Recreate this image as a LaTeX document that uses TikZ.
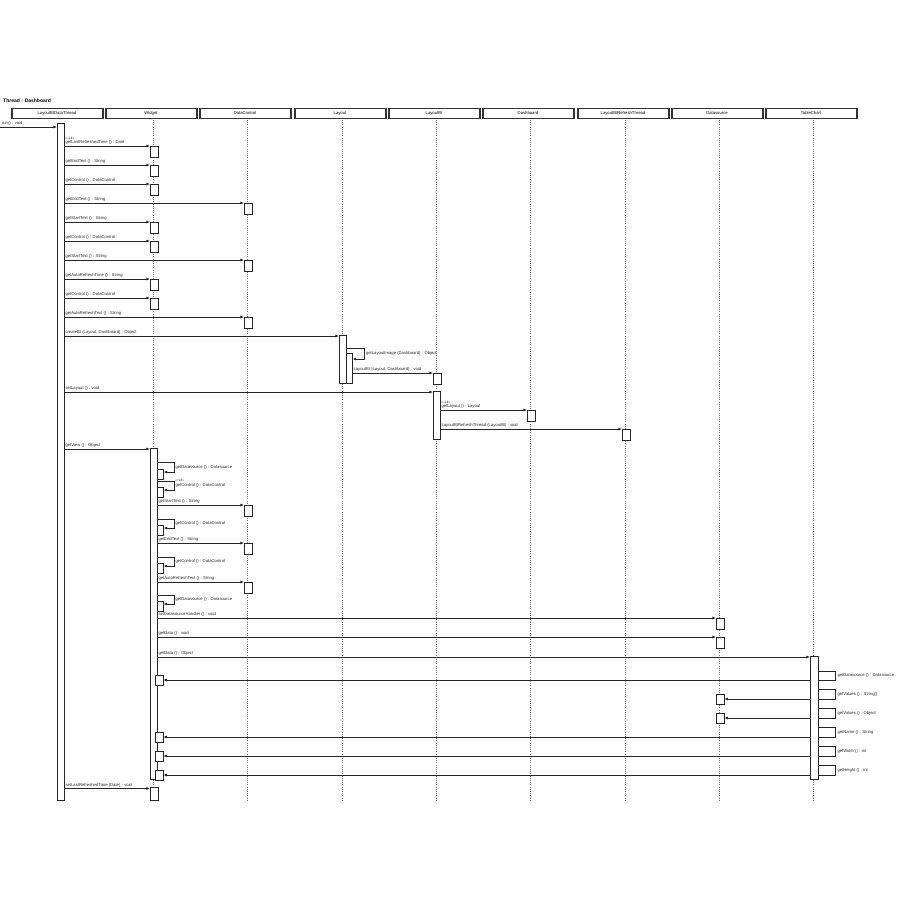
\documentclass[tikz,border=0pt]{standalone}
\usepackage{fontspec}
\setmainfont{Liberation Sans}
\usetikzlibrary{arrows.meta}

% message from a bar edge (#1) at height #2 to a new call box on lifeline #3
\newcommand\sendmsg[5]{%
  \node[actbox, anchor=north west] (#4) at (#3-3,#2-0.5) {};
  \coordinate (#4-from) at (#1,#2);
  \draw[msg] (#4-from) -- (#4-from -| #4.west);
  \node[lbl, anchor=south west] (#4-lbl) at (#1+1,#2-0.8) {#5};
}
% self call on a bar whose right edge is #1, loop from #2 down to #3
\newcommand\selfmsg[5]{%
  \node[actbox, minimum width=6pt, minimum height=9.5pt, anchor=north west] (#4) at (#1,#3-3) {};
  \coordinate (#4-from) at (#1,#2);
  \coordinate (#4-turn) at (#1+17,#2);
  \coordinate (#4-back) at (#1+17,#3);
  \draw[msg] (#4-from) -- (#4-turn) -- (#4-back) -- (#4-back -| #4.east);
  \node[lbl, anchor=west] (#4-lbl) at (#1+18,{(#2+#3)/2}) {#5};
}
% call made by the table chart, answered on lifeline centre #3
\newcommand\chartcall[5]{%
  \node[actbox, minimum height=10pt] (#4) at (#3,#2) {};
  \coordinate (#4-a) at (818,#1);
  \coordinate (#4-b) at (835,#1);
  \coordinate (#4-c) at (835,#2);
  \coordinate (#4-d) at (818,#2);
  \draw[link] (#4-a) -- (#4-b) -- (#4-c) -- (#4-d);
  \coordinate (#4-from) at (810,#2);
  \draw[msg] (#4-from) -- (#4-from -| #4.east);
  \node[lbl, anchor=west] (#4-lbl) at (837,{(#1+#2)/2}) {#5};
}

\begin{document}
\begin{tikzpicture}[x=1pt,y=-1pt,
  lbl/.style={font=\fontsize{4.2}{5}\selectfont, inner sep=0.3pt, text=black!85},
  tiny/.style={font=\fontsize{3.4}{4}\selectfont, inner sep=0.2pt, text=black!75},
  head/.style={draw=black!80, line width=0.7pt, fill=white, minimum width=92pt,
    minimum height=10.5pt, inner sep=0pt, text height=3.1pt, text depth=0.9pt,
    font=\fontsize{4.2}{5}\selectfont},
  life/.style={draw=black!55, line width=0.6pt, dash pattern=on 0.9pt off 1.3pt},
  msg/.style={draw=black!85, line width=0.7pt, -{Latex[length=3.6pt,width=3pt]}},
  link/.style={draw=black!85, line width=0.7pt},
  bar/.style={draw=black!85, line width=0.6pt, fill=white, inner sep=0pt},
  actbox/.style={draw=black!85, line width=0.6pt, fill=white, inner sep=0pt,
    minimum width=8pt, minimum height=11pt},
]
\useasboundingbox (0,0) rectangle (900,900);

\node[anchor=west, inner sep=0pt, font=\fontsize{5}{6}\selectfont\bfseries] (title) at (3,101) {Thread : Dashboard};

% lifeline heads
\coordinate (bottom) at (0,802);
\foreach \x/\n/\t in {57/h0/LayoutBIDataThread, 151/h1/Widget, 245/h2/DataControl,
  340/h3/Layout, 434/h4/LayoutBI, 528/h5/Dashboard, 623/h6/LayoutBIRefreshThread,
  717/h7/Datasource, 811/h8/TableChart}{
  \node[head] (\n) at (\x,113.5) {\t};
  \draw[black!80, line width=0.5pt] ([xshift=1.6pt]\n.north west) -- ([xshift=1.6pt]\n.south west);
  \draw[black!80, line width=0.5pt] ([xshift=-1.6pt]\n.north east) -- ([xshift=-1.6pt]\n.south east);
}
% lifelines
\foreach \n/\x in {h1/153, h2/247, h3/342, h4/436, h5/530, h6/625, h7/719, h8/813}{
  \coordinate (\n-top) at (\x,120);
  \draw[life] (\n-top) -- (\n-top |- bottom);
}

% activation bars
\node[bar, minimum width=7pt, minimum height=677pt, anchor=north west] (mainbar) at (57,123) {};
\node[bar, minimum width=7pt, minimum height=48pt, anchor=north west] (lybar) at (339,335) {};
\node[bar, minimum width=6pt, minimum height=30pt, anchor=north west] (lyin) at (346,353) {};
\node[bar, minimum width=7pt, minimum height=48pt, anchor=north west] (lbbar) at (433,391) {};
\node[bar, minimum width=7pt, minimum height=331pt, anchor=north west] (wbar) at (150,448) {};
\node[bar, minimum width=8pt, minimum height=123pt, anchor=north west] (tcbar) at (810,656) {};

% entry call
\coordinate (run-from) at (0,127);
\draw[msg] (run-from) -- (run-from -| mainbar.west);
\node[lbl, anchor=south west] (run-lbl) at (1.5,125.5) {run() : void};

% reading the widget settings
\node[tiny, anchor=south west] (m1-st) at (65,139.5) {«call»};
\sendmsg{64}{146}{153}{m1}{getLastRefreshedTime () : Date}
\sendmsg{64}{165}{153}{m2}{getEndText () : String}
\sendmsg{64}{184}{153}{m3}{getControl () : DataControl}
\sendmsg{64}{203}{247}{m4}{getEndText () : String}
\sendmsg{64}{222}{153}{m5}{getStartText () : String}
\sendmsg{64}{241}{153}{m6}{getControl () : DataControl}
\sendmsg{64}{260}{247}{m7}{getStartText () : String}
\sendmsg{64}{279}{153}{m8}{getAutoRefreshTime () : String}
\sendmsg{64}{298}{153}{m9}{getControl () : DataControl}
\sendmsg{64}{317}{247}{m10}{getAutoRefreshText () : String}

% creating the layout
\coordinate (cb-from) at (64,336);
\draw[msg] (cb-from) -- (cb-from -| lybar.west);
\node[lbl, anchor=south west] (cb-lbl) at (65,335.2) {createBI (Layout, Dashboard) : Object};
\coordinate (li-from) at (346,348);
\coordinate (li-turn) at (364,348);
\coordinate (li-back) at (364,359);
\draw[msg] (li-from) -- (li-turn) -- (li-back) -- (li-back -| lyin.east);
\node[lbl, anchor=west] (li-lbl) at (365.5,353.5) {getLayoutImage (Dashboard) : Object};
\sendmsg{352}{373}{436}{lbi}{LayoutBI (Layout, Dashboard) : void}

\coordinate (sl-from) at (64,392);
\draw[msg] (sl-from) -- (sl-from -| lbbar.west);
\node[lbl, anchor=south west] (sl-lbl) at (65,391.2) {setLayout () : void};
\node[tiny, anchor=south west] (gl-st) at (441,403.5) {«call»};
\sendmsg{440}{410}{530}{gl}{getLayout () : Layout}
\sendmsg{440}{429}{625}{rt}{LayoutBIRefreshThread (LayoutBI) : void}

% building the view
\coordinate (gv-from) at (64,449);
\draw[msg] (gv-from) -- (gv-from -| wbar.west);
\node[lbl, anchor=south west] (gv-lbl) at (65,448.2) {getView () : Object};

\selfmsg{157}{462}{472}{v1}{getDatasource () : Datasource}
\node[tiny, anchor=south west] (v2-st) at (175,481.5) {«call»};
\selfmsg{157}{481}{490}{v2}{getControl () : DataControl}
\sendmsg{157}{505}{247}{v3}{getStartText () : String}
\selfmsg{157}{519}{528}{v4}{getControl () : DataControl}
\sendmsg{157}{543}{247}{v5}{getEndText () : String}
\selfmsg{157}{557}{566}{v6}{getControl () : DataControl}
\sendmsg{157}{582}{247}{v7}{getAutoRefreshText () : String}
\selfmsg{157}{595}{604}{v8}{getDatasource () : Datasource}
\sendmsg{157}{618}{719}{v9}{setDatasourceHandler () : void}
\sendmsg{157}{637}{719}{v10}{getData () : void}

\coordinate (gd-from) at (157,657);
\draw[msg] (gd-from) -- (gd-from -| tcbar.west);
\node[lbl, anchor=south west] (gd-lbl) at (158,656.2) {getData () : Object};

% table chart reading data
\chartcall{671}{680}{159}{t1}{getDatasource () : Datasource}
\chartcall{689}{699}{720}{t2}{getValues () : String[]}
\chartcall{708}{718}{720}{t3}{getValues () : Object}
\chartcall{727}{737}{159}{t4}{getName () : String}
\chartcall{746}{756}{159}{t5}{getWidth () : int}
\chartcall{765}{775}{159}{t6}{getHeight () : int}

% closing call
\node[actbox, minimum height=13pt, anchor=north west] (slr) at (150,787) {};
\coordinate (slr-from) at (64,788.5);
\draw[msg] (slr-from) -- (slr-from -| slr.west);
\node[lbl, anchor=south west] (slr-lbl) at (65,787.5) {setLastRefreshedTime (Date) : void};
\end{tikzpicture}
\end{document}
